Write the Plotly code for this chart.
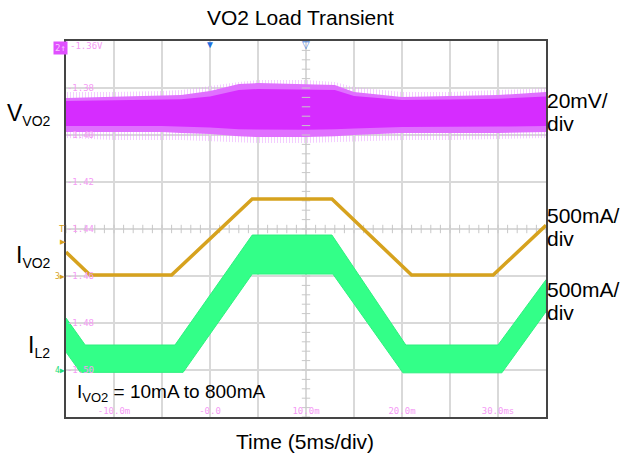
import numpy as np
import plotly.graph_objects as go

# ---- scope data (time in ms) ----
# channel 1: V_VO2 noise band (volts), envelopes
T_V = [-15, -10, -5, -3, 0, 3, 5, 10, 13, 15, 20, 25, 30, 35]
V_SPIKE_HI = [-1.3817, -1.3817, -1.3813, -1.3809, -1.3791, -1.3774, -1.3766,
              -1.3766, -1.3774, -1.3796, -1.3817, -1.3817, -1.3809, -1.3800]
V_HI = [-1.3843, -1.3838, -1.3834, -1.3830, -1.3813, -1.3783, -1.3779,
        -1.3783, -1.3787, -1.3817, -1.3838, -1.3834, -1.3830, -1.3817]
V_CORE_HI = [-1.3855, -1.3853, -1.3851, -1.3848, -1.3836, -1.3808, -1.3804,
             -1.3806, -1.3808, -1.3834, -1.3851, -1.3849, -1.3846, -1.3836]
V_CORE_LO = [-1.3962, -1.3962, -1.3962, -1.3964, -1.3968, -1.3976, -1.3978,
             -1.3978, -1.3976, -1.3972, -1.3966, -1.3964, -1.3964, -1.3962]
V_LO = [-1.3987, -1.3987, -1.3987, -1.3991, -1.3996, -1.4005, -1.4009,
        -1.4009, -1.4005, -1.4000, -1.3991, -1.3991, -1.3991, -1.3987]
V_SPIKE_LO = [-1.4013, -1.4021, -1.4021, -1.4021, -1.4026, -1.4030, -1.4034,
              -1.4034, -1.4030, -1.4026, -1.4021, -1.4021, -1.4017, -1.4013]

# channel 3: I_VO2 load current (mA)
T_IO = [-15, -12.5, -4.0, 4.4, 12.7, 21.0, 29.5, 35]
I_VO2 = [255, 10, 10, 820, 820, 10, 10, 540]

# channel 4: I_L2 inductor current ripple band (mA)
T_IL_HI = [-15, -13.0, -3.65, 4.4, 12.7, 20.4, 30.0, 35]
IL_HI = [553, 266, 266, 1436, 1436, 266, 266, 960]
T_IL_LO = [-15, -13.5, -2.8, 4.4, 12.8, 20.1, 30.4, 35]
IL_LO = [191, -25, -25, 1021, 1021, -30, -30, 620]

# graticule labels
X_TICKS = [-15, -10, -5, 0, 5, 10, 15, 20, 25, 30, 35]
X_TEXT = ["", "-10.0m", "", "-0.0", "", "10.0m", "", "20.0m", "", "30.0ms", ""]
Y_TICKS = [-1.52, -1.50, -1.48, -1.46, -1.44, -1.42, -1.40, -1.38, -1.36]
Y_TEXT = ["", "-1.50", "-1.48", "-1.46", "-1.44", "-1.42", "-1.40", "-1.38", ""]

PINK = "#f59af5"
MONO = "DejaVu Sans Mono"
YELLOW = "#d6a21e"


def band(t_hi, hi, t_lo, lo):
    return list(t_hi) + list(t_lo)[::-1], list(hi) + list(lo)[::-1]


fig = go.Figure()

# V_VO2 band: streaky spikes, solid band, dense core
x, y = band(T_V, V_SPIKE_HI, T_V, V_SPIKE_LO)
fig.add_trace(go.Scatter(x=x, y=y, fill="toself", mode="lines", line=dict(width=0),
                         fillcolor="rgba(0,0,0,0)",
                         fillpattern=dict(shape="|", fgcolor="#e89cff",
                                          bgcolor="rgba(0,0,0,0)", size=3,
                                          solidity=0.35),
                         hoverinfo="skip"))
for hi, lo, col in [(V_HI, V_LO, "#e070ff"),
                    (V_CORE_HI, V_CORE_LO, "#d62cff")]:
    x, y = band(T_V, hi, T_V, lo)
    fig.add_trace(go.Scatter(x=x, y=y, fill="toself", fillcolor=col,
                             line=dict(width=0), mode="lines", hoverinfo="skip"))

# centre-line graticule ticks
mx = np.arange(-15, 35.01, 1.0)
fig.add_trace(go.Scatter(x=mx, y=[-1.44] * len(mx), mode="markers",
                         marker=dict(symbol="line-ns", size=6,
                                     line=dict(color="#c8c8c8", width=1)),
                         hoverinfo="skip"))
my = np.arange(-1.52, -1.3599, 0.004)
fig.add_trace(go.Scatter(x=[10] * len(my), y=my, mode="markers",
                         marker=dict(symbol="line-ew", size=6,
                                     line=dict(color="#c8c8c8", width=1)),
                         hoverinfo="skip"))

# I_L2 band
x, y = band(T_IL_HI, IL_HI, T_IL_LO, IL_LO)
fig.add_trace(go.Scatter(x=x, y=y, yaxis="y3", fill="toself", fillcolor="#33ff88",
                         line=dict(width=1, color="#2ef07f"), mode="lines",
                         hoverinfo="skip"))

# I_VO2 trace
fig.add_trace(go.Scatter(x=T_IO, y=I_VO2, yaxis="y2", mode="lines",
                         line=dict(color=YELLOW, width=3.5), hoverinfo="skip"))

axis_common = dict(showgrid=True, gridcolor="#d9d9d9", gridwidth=1.5,
                   showline=True, mirror=True, linecolor="#454545", linewidth=1.5,
                   zeroline=False, ticks="", ticklabelposition="inside",
                   tickfont=dict(family=MONO, size=9, color=PINK))

fig.update_layout(
    width=623, height=466,
    margin=dict(l=66, r=77, t=41, b=49),
    plot_bgcolor="white", paper_bgcolor="white",
    showlegend=False,
    font=dict(family="Liberation Sans, Arial", color="black"),
    xaxis=dict(range=[-15, 35], tickmode="array", tickvals=X_TICKS,
               ticktext=X_TEXT, **axis_common),
    yaxis=dict(range=[-1.52, -1.36], tickmode="array", tickvals=Y_TICKS,
               ticktext=Y_TEXT, **axis_common),
    yaxis2=dict(range=[-1500, 2500], overlaying="y", visible=False),
    yaxis3=dict(range=[-500, 3500], overlaying="y", visible=False),
)


def px(xp, yp):
    return (xp - 66) / 480, (417 - yp) / 376


def note(text, xp, yp, size, color="black", xanchor="center", family=None, **kw):
    ax, ay = px(xp, yp)
    f = dict(size=size, color=color)
    if family:
        f["family"] = family
    fig.add_annotation(text=text, x=ax, y=ay, xref="paper", yref="paper",
                       xanchor=xanchor, yanchor="middle", showarrow=False, font=f,
                       **kw)


def sub(s, size):
    return "<sub><span style='font-size:%dpx'>%s</span></sub>" % (size, s)


note("VO2 Load Transient", 300, 17, 21)
note("Time (5ms/div)", 305, 441, 21)

# channel names
note("V" + sub("VO2", 14), 53, 115, 23, xanchor="right")
note("I" + sub("VO2", 14), 53, 256, 23, xanchor="right")
note("I" + sub("L2", 14), 52, 346, 23, xanchor="right")

# scales
for txt, yp in [("20mV/", 101), ("div", 123), ("500mA/", 215), ("div", 238),
                ("500mA/", 289), ("div", 312)]:
    note(txt, 545, yp, 21, xanchor="left")

note("I" + sub("VO2", 13) + " = 10mA to 800mA", 75, 393, 19, xanchor="left")

# scope markers
note("-1.36V", 68, 46, 9, PINK, xanchor="left", family=MONO)
note("▼", 210, 44, 10, "#1f6fe0")
note("▽", 306, 44, 10, "#1f6fe0")
note("2↑", 60, 48, 9, "#f8c8ff", family=MONO, bgcolor="#e050ff", borderpad=1)
note("T", 62, 229, 9, YELLOW, family=MONO)
note("▶", 63, 241, 7, YELLOW)
note("3▶", 60, 276, 8, YELLOW, family=MONO)
note("4▶", 60, 370, 8, "#22dd77", family=MONO)

fig.write_html("out.html", config={"displayModeBar": False},
               post_script="document.body.style.margin='0px';")
